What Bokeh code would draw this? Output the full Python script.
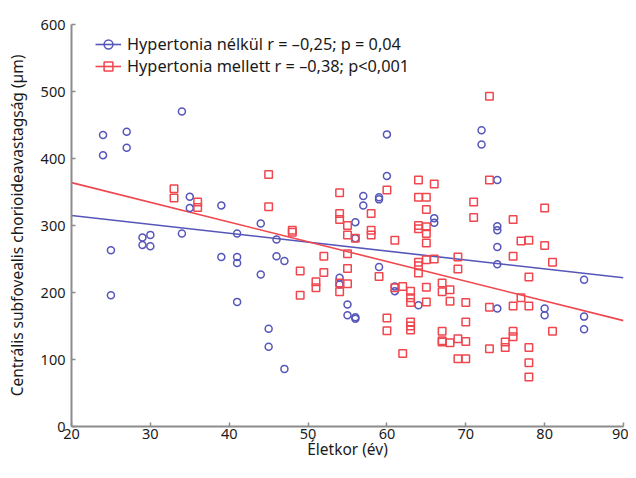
from bokeh.plotting import figure
from bokeh.models import Range1d, FixedTicker, Legend, LegendItem
from bokeh.embed import file_html
from bokeh.resources import INLINE

# --- data -------------------------------------------------------------
no_ht_age = [24, 24, 27, 27, 34, 35, 35, 39, 25, 25, 29, 29, 30, 30, 34, 39, 41, 41, 41, 41,
             44, 44, 46, 46, 47, 45, 45, 47, 54, 54, 55, 55, 56, 56, 57, 57, 59, 59, 56, 56,
             59, 60, 60, 61, 61, 64, 66, 66, 72, 72, 74, 74, 74, 74, 74, 74, 80, 80, 85, 85, 85]
no_ht_thk = [435, 405, 440, 416, 470, 343, 326, 330, 263, 196, 282, 271, 286, 269, 288, 253, 288, 253, 244, 186,
             303, 227, 279, 254, 247, 146, 119, 86, 222, 212, 182, 166, 163, 161, 344, 330, 342, 339, 305, 281,
             238, 436, 374, 209, 202, 181, 311, 304, 442, 421, 368, 299, 293, 268, 242, 176, 176, 166, 219, 164, 145]

ht_age = [33, 33, 36, 36, 45, 45, 48, 48, 49, 49, 51, 51, 52, 52,
          54, 54, 54, 54, 54, 55, 55, 55, 55, 55, 56, 58, 58, 58, 59,
          60, 60, 60, 61, 61, 62, 62, 63, 63, 63, 63, 63, 63,
          64, 64, 64, 64, 64, 64, 64, 65, 65, 65, 65, 65, 65, 65, 65, 66, 66,
          67, 67, 67, 67, 67, 68, 68, 68, 69, 69, 69, 69, 70, 70, 70, 70,
          71, 71, 73, 73, 73, 73, 75, 75, 76, 76, 76, 76, 76, 77, 77,
          78, 78, 78, 78, 78, 78, 80, 80, 81, 81]
ht_thk = [355, 341, 335, 327, 376, 328, 293, 290, 232, 196, 216, 207, 254, 230,
          349, 318, 309, 214, 201, 300, 286, 258, 236, 213, 281, 318, 293, 286, 224,
          353, 162, 143, 278, 207, 209, 109, 202, 192, 185, 156, 150, 144,
          368, 342, 300, 295, 245, 240, 229, 342, 324, 298, 288, 274, 249, 208, 186, 362, 250,
          214, 201, 142, 128, 126, 204, 187, 125, 253, 235, 131, 101, 185, 156, 127, 101,
          335, 312, 493, 368, 178, 116, 126, 118, 309, 254, 180, 142, 134, 277, 192,
          278, 223, 180, 118, 95, 74, 326, 270, 245, 142]

fit_age = [20, 90]
no_ht_fit = [315, 222]
ht_fit = [364, 158]

x_ticks = [20, 30, 40, 50, 60, 70, 80, 90]
y_ticks = [0, 100, 200, 300, 400, 500, 600]

label_no_ht = "Hypertonia nélkül r = \u20130,25; p = 0,04"
label_ht = "Hypertonia mellett r = \u20130,38; p<0,001"
x_title = "Életkor (év)"
y_title = "Centrális subfovealis chorioideavastagság (µm)"

# --- styling ----------------------------------------------------------
BLUE = "#5656ba"
RED = "#f0464e"
FONT = "Noto Sans"

p = figure(width=628, height=462, output_backend="svg", toolbar_location=None,
           x_range=Range1d(20, 90), y_range=Range1d(0, 600),
           min_border_left=71, min_border_right=5, min_border_top=24, min_border_bottom=0)
p.outline_line_color = None
p.xgrid.visible = False
p.ygrid.visible = False

l1 = p.line(fit_age, no_ht_fit, line_color=BLUE, line_width=1.6)
l2 = p.line(fit_age, ht_fit, line_color=RED, line_width=1.6)
c1 = p.scatter(no_ht_age, no_ht_thk, marker="circle", size=7, fill_color=None,
               line_color=BLUE, line_width=1.5)
c2 = p.scatter(ht_age, ht_thk, marker="square", size=7.5, fill_color=None,
               line_color=RED, line_width=1.5)

for ax in (p.xaxis[0], p.yaxis[0]):
    ax.axis_line_color = "#8c8c8c"
    ax.axis_line_width = 2
    ax.major_tick_line_color = "#8c8c8c"
    ax.major_tick_line_width = 1.5
    ax.major_tick_in = 4
    ax.major_tick_out = 0
    ax.minor_tick_line_color = None
    ax.major_label_text_font = FONT
    ax.major_label_text_font_size = "14.5px"
    ax.major_label_text_color = "#1a1a1a"
    ax.axis_label_text_font = FONT
    ax.axis_label_text_font_size = "15.5px"
    ax.axis_label_text_font_style = "normal"
    ax.axis_label_text_color = "#1a1a1a"

p.xaxis.ticker = FixedTicker(ticks=x_ticks)
p.yaxis.ticker = FixedTicker(ticks=y_ticks)
p.xaxis.axis_label = x_title
p.yaxis.axis_label = y_title
p.xaxis.major_label_standoff = 2
p.yaxis.major_label_standoff = 6
p.xaxis.axis_label_standoff = -4
p.yaxis.axis_label_standoff = 10

legend = Legend(items=[LegendItem(label=label_no_ht, renderers=[l1, c1]),
                       LegendItem(label=label_ht, renderers=[l2, c2])],
                location=(24, 349), padding=5, spacing=0,
                border_line_color=None, background_fill_alpha=0,
                label_text_font=FONT, label_text_font_size="16.3px",
                label_text_color="#1a1a1a",
                glyph_width=26, glyph_height=22, label_height=22, label_standoff=6)
p.add_layout(legend, "center")

open("out.html", "w").write(file_html(p, INLINE))
